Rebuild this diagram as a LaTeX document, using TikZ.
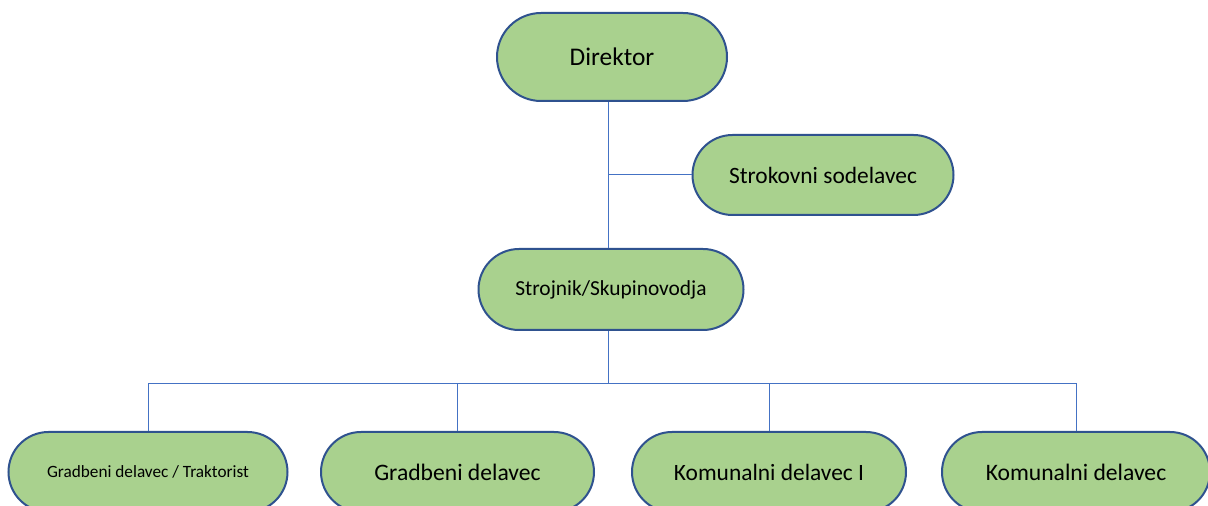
\documentclass[tikz,border=0pt]{standalone}
\usepackage{fontspec}
\setmainfont{Carlito}
\usetikzlibrary{shapes.misc}
\definecolor{boxfill}{HTML}{A9D18E}
\definecolor{boxline}{HTML}{2F528F}
\definecolor{connblue}{HTML}{4472C4}
\tikzset{
  orgbox/.style n args={3}{rounded rectangle, draw=boxline, line width=2bp,
    fill=boxfill, text=black, inner sep=0pt,
    minimum width=#1, minimum height=#2,
    font=\fontsize{#3}{#3}\selectfont},
  conn/.style={draw=connblue, line width=1bp}
}
\begin{document}
\begin{tikzpicture}[x=1bp,y=-1bp]
\fill[white] (0,0) rectangle (1208,506);
\useasboundingbox (0,0) rectangle (1208,506);

\node[orgbox={230bp}{88bp}{25.5}] (dir) at (612,57) {Direktor};
\node[orgbox={261bp}{80bp}{23.5}] (str) at (823,175) {Strokovni sodelavec};
\node[orgbox={265bp}{81bp}{21.5}] (stro) at (611,289.5) {Strojnik/Skupinovodja};

\node[orgbox={279bp}{80bp}{17.3}] (g1) at (148,472) {Gradbeni delavec / Traktorist};
\node[orgbox={273bp}{80bp}{23.7}] (g2) at (457.5,472) {Gradbeni delavec};
\node[orgbox={274bp}{80bp}{23.5}] (k1) at (769,472) {Komunalni delavec I};
\node[orgbox={268bp}{80bp}{23.7}] (k2) at (1076,472) {Komunalni delavec};

\coordinate (j1) at (608,175);
\coordinate (bus) at (608,384);

\draw[conn] (dir.south -| j1) -- (stro.north -| j1);
\draw[conn] (j1) -- (str.west);
\draw[conn] (stro.south -| bus) -- (bus);
\draw[conn] (g1.north) -- (g1.north |- bus) -- (k2.north |- bus) -- (k2.north);
\draw[conn] (g2.north) -- (g2.north |- bus);
\draw[conn] (k1.north) -- (k1.north |- bus);
\end{tikzpicture}
\end{document}
